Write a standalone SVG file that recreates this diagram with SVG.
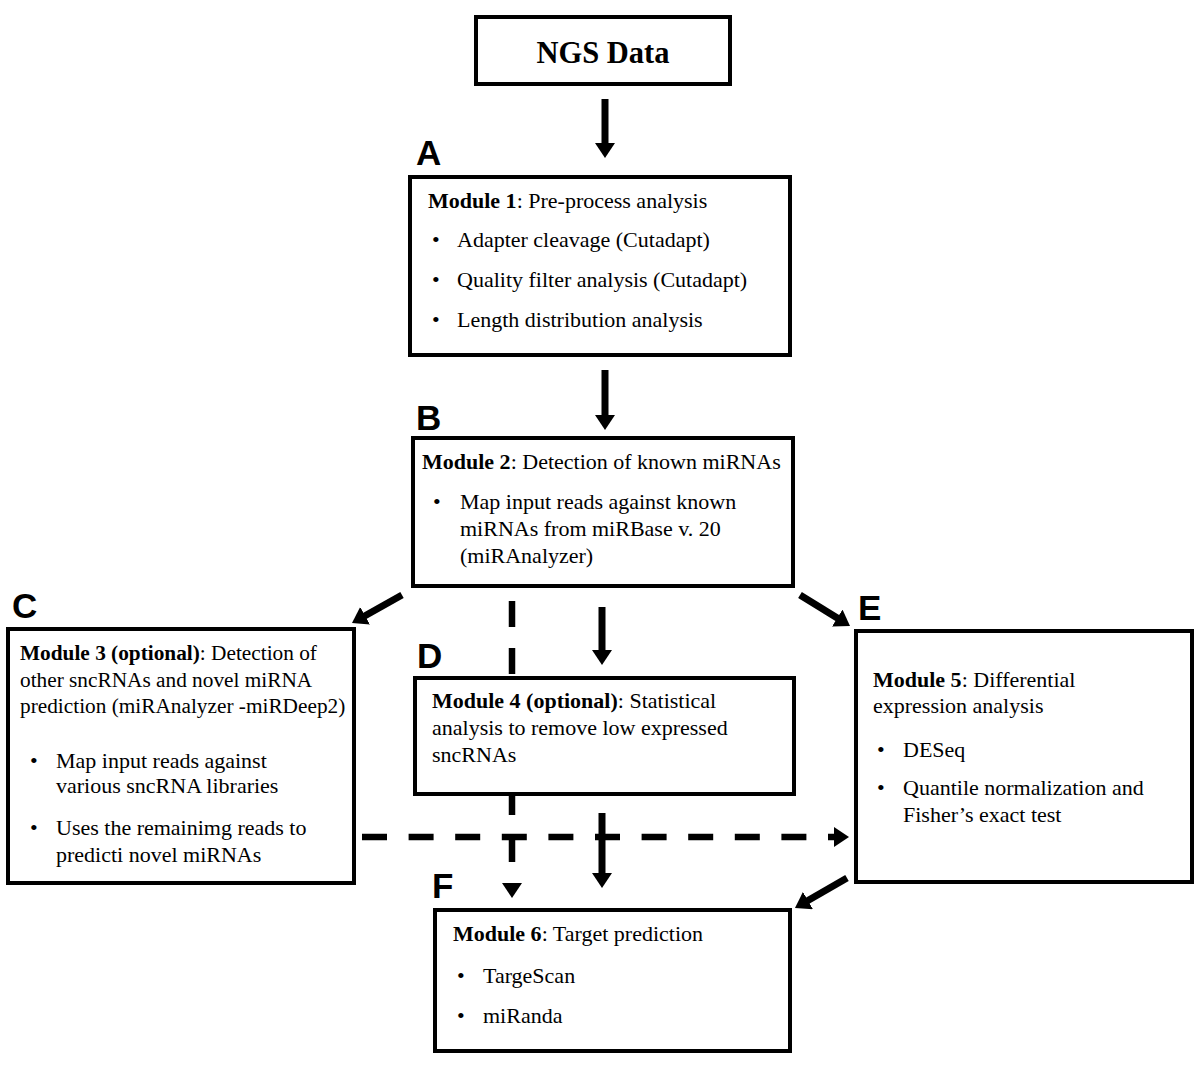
<svg xmlns="http://www.w3.org/2000/svg" width="1200" height="1091" viewBox="0 0 1200 1091">
<style>
.box{fill:#fff;stroke:#000;stroke-width:4}
.t{font-family:"Liberation Serif","Times New Roman",serif;font-size:22px;fill:#000}
.c{font-size:21.3px}
.b{font-weight:bold}
.lbl{font-family:"Liberation Sans",Arial,sans-serif;font-size:35px;font-weight:bold;fill:#000}
.sh{stroke:#000;stroke-width:7;fill:none}
.dsh{stroke:#000;stroke-width:6.5;fill:none}
</style>
<defs>
<marker id="ah" markerUnits="userSpaceOnUse" markerWidth="15" markerHeight="20" refX="1" refY="10" orient="auto" viewBox="0 0 15 20"><path d="M0,0 L15,10 L0,20 z" fill="#000"/></marker>
</defs>
<rect width="1200" height="1091" fill="#fff"/>
<g id="connectors">
<line class="sh" x1="605" y1="99" x2="605" y2="144" marker-end="url(#ah)"/>
<line class="sh" x1="605" y1="370" x2="605" y2="416" marker-end="url(#ah)"/>
<line class="sh" x1="602" y1="607" x2="602" y2="651" marker-end="url(#ah)"/>
<line class="sh" x1="402" y1="595" x2="364.2" y2="616.2" marker-end="url(#ah)"/>
<line class="sh" x1="800" y1="595" x2="838.1" y2="618.6" marker-end="url(#ah)"/>
<line class="dsh" x1="512" y1="601" x2="512" y2="884" stroke-dasharray="26 21" marker-end="url(#ah)"/>
<line class="dsh" x1="362" y1="837" x2="835" y2="837" stroke-dasharray="25 21.6" marker-end="url(#ah)"/>
<line class="sh" x1="602" y1="813" x2="602" y2="874" marker-end="url(#ah)"/>
<line class="sh" x1="847" y1="878" x2="807.1" y2="901" marker-end="url(#ah)"/>
</g>
<g id="ngs">
<rect class="box" x="476" y="17" width="254" height="67"/>
<text class="t b" x="603" y="63" text-anchor="middle" style="font-size:30.5px">NGS Data</text>
</g>
<g id="module1">
<text class="lbl" x="416" y="165">A</text>
<rect class="box" x="410" y="177" width="380" height="178"/>
<text class="t" x="428" y="208"><tspan class="b">Module 1</tspan>: Pre-process analysis</text>
<text class="t" x="432" y="247">•</text><text class="t" x="457" y="247">Adapter cleavage (Cutadapt)</text>
<text class="t" x="432" y="287">•</text><text class="t" x="457" y="287">Quality filter analysis (Cutadapt)</text>
<text class="t" x="432" y="327">•</text><text class="t" x="457" y="327">Length distribution analysis</text>
</g>
<g id="module2">
<text class="lbl" x="416" y="430">B</text>
<rect class="box" x="413" y="438" width="380" height="148"/>
<text class="t" x="422" y="469"><tspan class="b">Module 2</tspan>: Detection of known miRNAs</text>
<text class="t" x="433" y="509">•</text>
<text class="t" x="460" y="509">Map input reads against known</text>
<text class="t" x="460" y="536">miRNAs from miRBase v. 20</text>
<text class="t" x="460" y="563">(miRAnalyzer)</text>
</g>
<g id="module3">
<text class="lbl" x="12" y="618">C</text>
<rect class="box" x="8" y="629" width="346" height="254"/>
<text class="t c" x="20" y="660"><tspan class="b">Module 3 (optional)</tspan>: Detection of</text>
<text class="t c" x="20" y="687">other sncRNAs and novel miRNA</text>
<text class="t c" x="20" y="713">prediction (miRAnalyzer -miRDeep2)</text>
<text class="t" x="30" y="768">•</text>
<text class="t" x="56" y="768">Map input reads against</text>
<text class="t" x="56" y="793">various sncRNA libraries</text>
<text class="t" x="30" y="835">•</text>
<text class="t" x="56" y="835">Uses the remainimg reads to</text>
<text class="t" x="56" y="862">predicti novel miRNAs</text>
</g>
<g id="module4">
<text class="lbl" x="417" y="668">D</text>
<rect class="box" x="415" y="678" width="379" height="116"/>
<text class="t" x="432" y="708"><tspan class="b">Module 4 (optional)</tspan>: Statistical</text>
<text class="t" x="432" y="735">analysis to remove low expressed</text>
<text class="t" x="432" y="762">sncRNAs</text>
</g>
<g id="module5">
<text class="lbl" x="858" y="620">E</text>
<rect class="box" x="856" y="631" width="336" height="251"/>
<text class="t" x="873" y="687"><tspan class="b">Module 5</tspan>: Differential</text>
<text class="t" x="873" y="713">expression analysis</text>
<text class="t" x="877" y="757">•</text>
<text class="t" x="903" y="757">DESeq</text>
<text class="t" x="877" y="795">•</text>
<text class="t" x="903" y="795">Quantile normalization and</text>
<text class="t" x="903" y="822">Fisher’s exact test</text>
</g>
<g id="module6">
<text class="lbl" x="432" y="898">F</text>
<rect class="box" x="435" y="910" width="355" height="141"/>
<text class="t" x="453" y="941"><tspan class="b">Module 6</tspan>: Target prediction</text>
<text class="t" x="457" y="983">•</text>
<text class="t" x="483" y="983">TargeScan</text>
<text class="t" x="457" y="1023">•</text>
<text class="t" x="483" y="1023">miRanda</text>
</g>
</svg>
